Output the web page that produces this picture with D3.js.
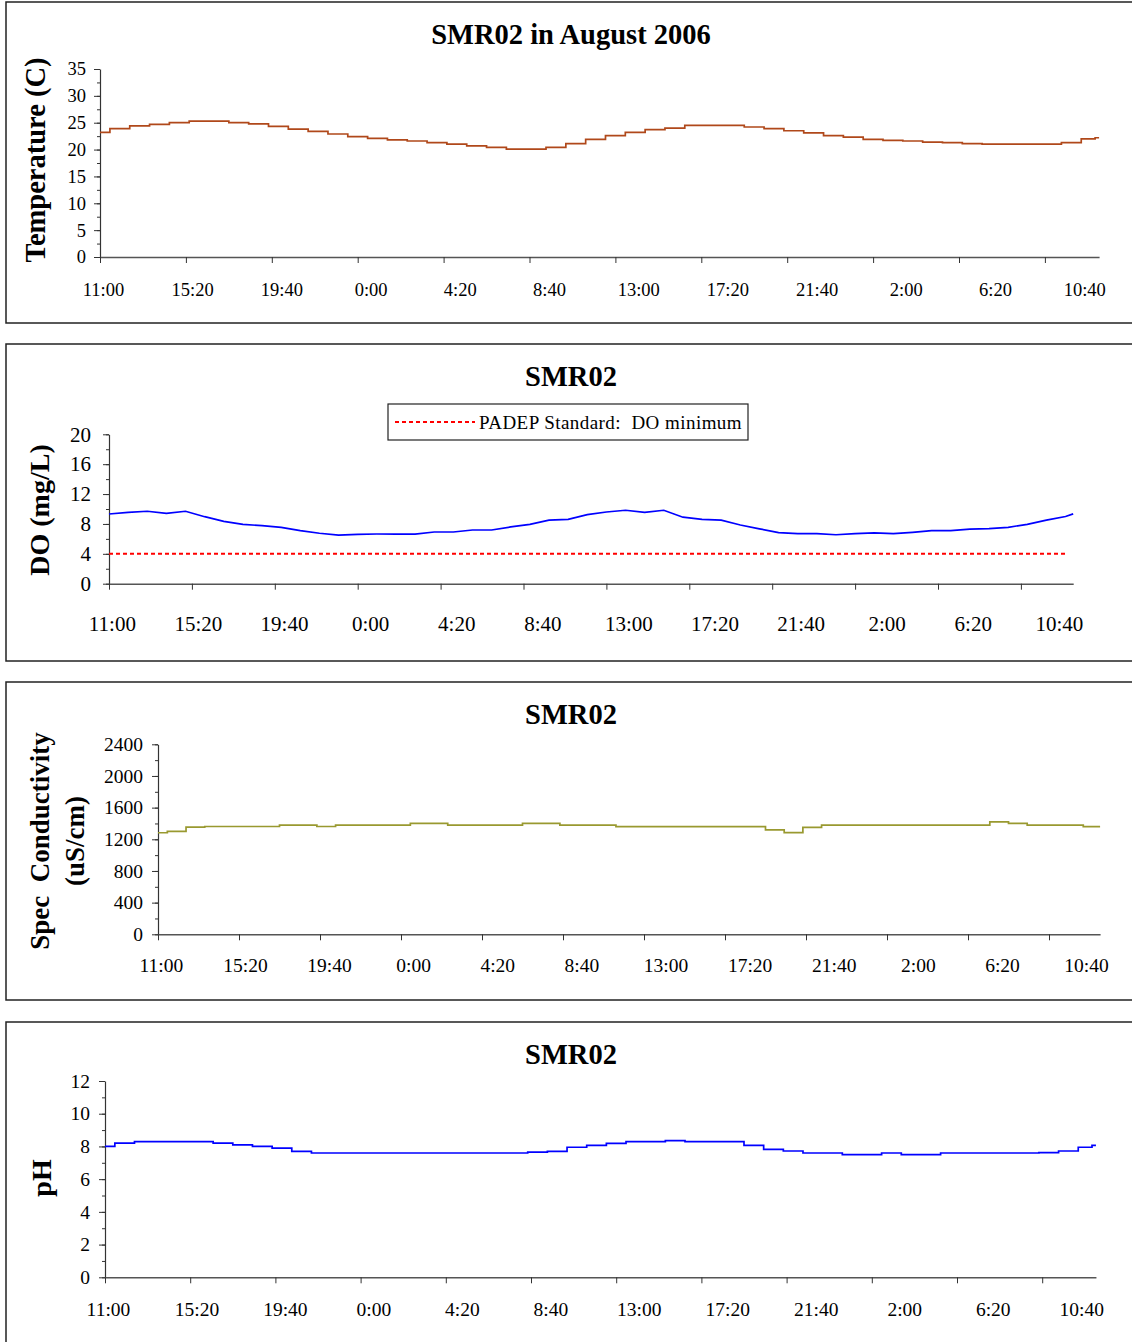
<!DOCTYPE html>
<html><head><meta charset="utf-8">
<script src="https://cdn.jsdelivr.net/npm/d3@7"></script>
<style>
body{margin:0;background:#fff}
svg text{font-family:"Liberation Serif","Times New Roman",serif;fill:#000}
</style>
</head><body>
<svg id="c" width="1132" height="1342"></svg>
<script>
// ---- data ----
const tickLabels = ["11:00","15:20","19:40","0:00","4:20","8:40","13:00","17:20","21:40","2:00","6:20","10:40"];
const tickStepHours = 260/60;      // tick marks every 4h20
const labelStepHours = 4.5;        // label spacing in axis units
const labelOffsetHours = 0.15;
const axisEndHours = 50.4;
const sampleHours = d3.range(0, 51).concat([50.4]);

const temperature = [23.2,23.9,24.4,24.7,25.0,25.3,25.3,25.0,24.8,24.3,23.8,23.4,22.9,22.4,22.1,21.8,21.6,21.3,21.0,20.7,20.4,20.1,20.1,20.4,21.1,21.9,22.6,23.2,23.7,24.0,24.5,24.5,24.5,24.2,23.9,23.5,23.1,22.6,22.3,21.9,21.7,21.6,21.4,21.3,21.1,21.0,21.0,21.0,21.0,21.3,22.0,22.2];
const dissolvedOxygen = [9.33,9.56,9.7,9.42,9.7,8.97,8.35,7.95,7.77,7.55,7.1,6.75,6.5,6.6,6.65,6.65,6.65,6.92,6.92,7.19,7.19,7.6,7.95,8.5,8.62,9.24,9.6,9.83,9.56,9.83,8.9,8.62,8.5,7.86,7.35,6.85,6.7,6.7,6.55,6.7,6.8,6.7,6.88,7.1,7.1,7.3,7.36,7.55,7.95,8.5,9.0,9.35];
const conductivity = [1283,1300,1355,1362,1362,1362,1362,1380,1380,1362,1380,1380,1380,1380,1402,1402,1380,1380,1380,1380,1402,1402,1380,1380,1380,1359,1359,1359,1359,1359,1359,1359,1359,1320,1285,1350,1380,1380,1380,1380,1380,1380,1380,1380,1380,1420,1400,1380,1380,1380,1359,1359];
const pHValues = [8.0,8.2,8.3,8.3,8.3,8.3,8.2,8.1,8.0,7.9,7.7,7.6,7.6,7.6,7.6,7.6,7.6,7.6,7.6,7.6,7.6,7.6,7.65,7.7,7.95,8.07,8.19,8.29,8.29,8.35,8.29,8.29,8.29,8.07,7.82,7.72,7.6,7.6,7.5,7.5,7.6,7.5,7.5,7.6,7.6,7.6,7.6,7.6,7.62,7.72,7.95,8.07];
const doStandard = 4;
const legendText = "PADEP Standard:  DO minimum";

const panels = [
  {title:"SMR02 in August 2006", top:2, bottom:323, left:100, tickPx:85.9, yBottom:257, yTop:69,
   yMax:35, major:5, minor:2.5, values:temperature, color:"#b0481a", curve:d3.curveStep,
   tickFont:18.5, yPad:8, xLabDy:39, titleY:44,
   yTitle:[{t:"Temperature (C)", x:45}], yTitleY:160, yTitleFont:28.5},
  {title:"SMR02", top:344, bottom:661, left:109, tickPx:82.9, yBottom:583.7, yTop:434.3,
   yMax:20, major:4, minor:2, values:dissolvedOxygen, color:"#0000ff", curve:d3.curveLinear,
   tickFont:21, yPad:12, xLabDy:47, titleY:386, standard:true,
   yTitle:[{t:"DO (mg/L)", x:49}], yTitleY:510, yTitleFont:28},
  {title:"SMR02", top:682, bottom:1000, left:158, tickPx:81.0, yBottom:934.3, yTop:744.3,
   yMax:2400, major:400, minor:200, values:conductivity, color:"#999930", curve:d3.curveStep,
   tickFont:19.5, yPad:9, xLabDy:38, titleY:724,
   yTitle:[{t:"Spec  Conductivity", x:49},{t:"(uS/cm)", x:84}], yTitleY:841, yTitleFont:27},
  {title:"SMR02", top:1022, bottom:1360, left:105, tickPx:85.2, yBottom:1277.3, yTop:1081,
   yMax:12, major:2, minor:1, values:pHValues, color:"#0000ff", curve:d3.curveStep,
   tickFont:19.5, yPad:9, xLabDy:39, titleY:1064,
   yTitle:[{t:"pH", x:51}], yTitleY:1178, yTitleFont:28}
];

const svg = d3.select("#c");
svg.append("rect").attr("width",1132).attr("height",1342).attr("fill","#fff");

panels.forEach(p => {
  const g = svg.append("g");
  g.append("rect").attr("x",6).attr("y",p.top).attr("width",1140).attr("height",p.bottom-p.top)
    .attr("fill","none").attr("stroke","#222").attr("stroke-width",1.5);

  const right = p.left + axisEndHours / tickStepHours * p.tickPx;
  const x = d3.scaleLinear().domain([0, axisEndHours]).range([p.left, right]);
  const y = d3.scaleLinear().domain([0, p.yMax]).range([p.yBottom, p.yTop]);

  // title
  g.append("text").attr("x",571).attr("y",p.titleY).attr("text-anchor","middle")
    .attr("font-size",28.5).attr("font-weight","bold").text(p.title);

  // y axis: minor ticks
  const minorVals = d3.range(0, p.yMax + 1e-9, p.minor);
  g.append("g").attr("transform",`translate(${p.left},0)`)
    .call(d3.axisLeft(y).tickValues(minorVals).tickSize(3).tickSizeOuter(0).tickFormat(""))
    .call(s => s.select(".domain").remove())
    .call(s => s.selectAll("line").attr("stroke","#333"));
  // y axis: major
  const majorVals = d3.range(0, p.yMax + 1e-9, p.major);
  g.append("g").attr("transform",`translate(${p.left},0)`)
    .call(d3.axisLeft(y).tickValues(majorVals).tickSize(6).tickSizeOuter(0).tickPadding(p.yPad).tickFormat(d3.format("d")))
    .attr("font-family",null).attr("font-size",null)
    .call(s => s.select(".domain").attr("stroke","#333").attr("stroke-width",1.2))
    .call(s => s.selectAll("line").attr("stroke","#333"))
    .call(s => s.selectAll("text").attr("font-size",p.tickFont).attr("fill","#000"));

  // x axis ticks
  const tickVals = d3.range(0, tickLabels.length).map(i => i * tickStepHours);
  g.append("g").attr("transform",`translate(0,${p.yBottom})`)
    .call(d3.axisBottom(x).tickValues(tickVals).tickSize(6).tickSizeOuter(0).tickFormat(""))
    .call(s => s.select(".domain").attr("stroke","#555").attr("stroke-width",1.5))
    .call(s => s.selectAll("line").attr("stroke","#333"));
  // x axis labels
  const labelVals = tickLabels.map((d,i) => labelOffsetHours + i * labelStepHours);
  g.append("g").attr("transform",`translate(0,${p.yBottom})`)
    .call(d3.axisBottom(x).tickValues(labelVals).tickSize(0).tickFormat((d,i) => tickLabels[i]))
    .attr("font-family",null).attr("font-size",null)
    .call(s => s.select(".domain").remove())
    .call(s => s.selectAll("text").attr("font-size",p.tickFont)
        .attr("fill","#000").attr("y",p.xLabDy).attr("dy",null));

  // y titles
  p.yTitle.forEach(t => {
    g.append("text").attr("transform",`translate(${t.x},${p.yTitleY}) rotate(-90)`)
      .attr("text-anchor","middle").attr("font-size",p.yTitleFont).attr("font-weight","bold")
      .style("white-space","pre").text(t.t);
  });

  // standard line + legend
  if (p.standard) {
    g.append("line").attr("x1",x(0)).attr("x2",x(50.1)).attr("y1",y(doStandard)).attr("y2",y(doStandard))
      .attr("stroke","#ff0000").attr("stroke-width",2).attr("stroke-dasharray","4,3");
    const lg = g.append("g");
    lg.append("rect").attr("x",388).attr("y",404).attr("width",360).attr("height",36)
      .attr("fill","#fff").attr("stroke","#222").attr("stroke-width",1.2);
    lg.append("line").attr("x1",395).attr("x2",475).attr("y1",422).attr("y2",422)
      .attr("stroke","#ff0000").attr("stroke-width",2).attr("stroke-dasharray","4,3");
    lg.append("text").attr("x",479).attr("y",429).attr("font-size",19)
      .attr("letter-spacing",0.45).style("white-space","pre").text(legendText);
  }

  // data line
  const data = sampleHours.map((h,i) => [h, p.values[i]]);
  g.append("path").datum(data)
    .attr("fill","none").attr("stroke",p.color).attr("stroke-width",1.7)
    .attr("d", d3.line().x(d => x(d[0])).y(d => y(d[1])).curve(p.curve));
});
</script>
</body></html>
